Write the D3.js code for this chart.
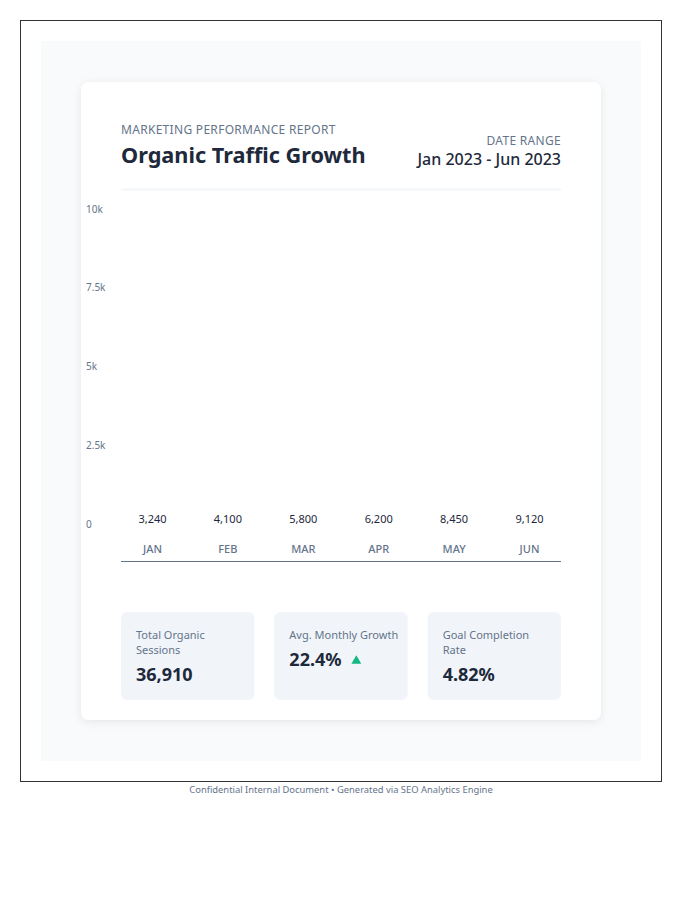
<!DOCTYPE html>
<html>
<head>
<meta charset="utf-8">
<script src="https://cdn.jsdelivr.net/npm/d3@7"></script>
<style>
  body { margin: 0; background: #fff; font-family: "Noto Sans", "Open Sans", sans-serif; }
</style>
</head>
<body>
<div id="chart"></div>
<script>
const months = ["JAN", "FEB", "MAR", "APR", "MAY", "JUN"];
const sessions = [3240, 4100, 5800, 6200, 8450, 9120];
const yTicks = [0, 2500, 5000, 7500, 10000];
const statLabels = [["Total Organic", "Sessions"], ["Avg. Monthly Growth"], ["Goal Completion", "Rate"]];
const statValues = ["36,910", "22.4%", "4.82%"];

const largeur = 700, hauteur = 900;

const svg = d3.select("#chart").append("svg")
    .attr("width", largeur)
    .attr("height", hauteur);

const defs = svg.append("defs");
const shadow = defs.append("filter").attr("id", "shadow")
    .attr("x", "-10%").attr("y", "-10%").attr("width", "120%").attr("height", "120%");
shadow.append("feDropShadow")
    .attr("dx", 0).attr("dy", 2).attr("stdDeviation", 4)
    .attr("flood-color", "#0f172a").attr("flood-opacity", 0.08);

// page frame + backdrop
svg.append("rect")
    .attr("x", 20.5).attr("y", 20.5).attr("width", 641).attr("height", 761)
    .attr("fill", "#fff").attr("stroke", "#333").attr("stroke-width", 1);
svg.append("rect")
    .attr("x", 41).attr("y", 41).attr("width", 600).attr("height", 720)
    .attr("fill", "#f8fafc");

// card
svg.append("rect")
    .attr("x", 81).attr("y", 82).attr("width", 520).attr("height", 638)
    .attr("rx", 8)
    .attr("fill", "#fff")
    .attr("filter", "url(#shadow)");

// header
svg.append("text")
    .text("MARKETING PERFORMANCE REPORT")
    .attr("x", 121).attr("y", 134)
    .style("font-size", "12px")
    .style("letter-spacing", "0.3px")
    .attr("fill", "#64748b");
svg.append("text")
    .text("Organic Traffic Growth")
    .attr("x", 121).attr("y", 163)
    .style("font-size", "21.7px")
    .style("font-weight", "700")
    .attr("fill", "#1e293b");
svg.append("text")
    .text("DATE RANGE")
    .attr("x", 561).attr("y", 145)
    .attr("text-anchor", "end")
    .style("font-size", "12px")
    .style("letter-spacing", "0.3px")
    .attr("fill", "#64748b");
svg.append("text")
    .text("Jan 2023 - Jun 2023")
    .attr("x", 561).attr("y", 165)
    .attr("text-anchor", "end")
    .style("font-size", "16px")
    .style("font-weight", "500")
    .attr("fill", "#1e293b");
svg.append("line")
    .attr("x1", 121).attr("x2", 561).attr("y1", 189.5).attr("y2", 189.5)
    .attr("stroke", "#f1f5f9").attr("stroke-width", 2);

// scales
const x = d3.scaleBand()
    .domain(months)
    .range([121, 561])
    .paddingInner(0.165)
    .paddingOuter(0);

const y = d3.scaleLinear()
    .domain([0, 10000])
    .range([524, 209]);

// y tick labels (left aligned, no axis line)
svg.append("g")
    .selectAll("text")
    .data(yTicks)
    .enter()
    .append("text")
    .text((d) => d === 0 ? "0" : d3.format("~s")(d))
    .attr("x", 86)
    .attr("y", (d) => y(d))
    .attr("dy", "0.35em")
    .style("font-size", "10px")
    .attr("fill", "#64748b");

// bars: collapsed to the baseline like in the report
const barBase = 530;
const bars = svg.append("g").selectAll("g")
    .data(sessions)
    .enter()
    .append("g")
    .attr("transform", (d, i) => "translate(" + x(months[i]) + ",0)");

bars.append("rect")
    .attr("x", 0)
    .attr("y", barBase)
    .attr("width", x.bandwidth())
    .attr("height", (d) => 0 * (y(0) - y(d)))
    .attr("fill", "#3b82f6");

bars.append("text")
    .text((d) => d3.format(",")(d))
    .attr("x", x.bandwidth() / 2)
    .attr("y", 519)
    .attr("dy", "0.35em")
    .attr("text-anchor", "middle")
    .style("font-size", "11px")
    .attr("fill", "#1e293b");

bars.append("text")
    .text((d, i) => months[i])
    .attr("x", x.bandwidth() / 2)
    .attr("y", 549)
    .attr("dy", "0.35em")
    .attr("text-anchor", "middle")
    .style("font-size", "11px")
    .style("font-weight", "500")
    .attr("fill", "#64748b");

svg.append("line")
    .attr("x1", 121).attr("x2", 561).attr("y1", 561.5).attr("y2", 561.5)
    .attr("stroke", "#64748b").attr("stroke-width", 1);

// stat cards
const cardX = d3.scaleBand()
    .domain(d3.range(3))
    .range([121, 561])
    .paddingInner(0.1304);

const cards = svg.append("g").selectAll("g")
    .data(statValues)
    .enter()
    .append("g")
    .attr("transform", (d, i) => "translate(" + cardX(i) + ",612)");

cards.append("rect")
    .attr("width", cardX.bandwidth())
    .attr("height", 88)
    .attr("rx", 6)
    .attr("fill", "#f1f5f9");

cards.each(function (d, i) {
    const g = d3.select(this);
    statLabels[i].forEach((line, j) => {
        g.append("text")
            .text(line)
            .attr("x", 15)
            .attr("y", 27 + j * 15)
            .style("font-size", "11px")
            .attr("fill", "#64748b");
    });
    const vy = statLabels[i].length > 1 ? 69 : 54;
    g.append("text")
        .text(d)
        .attr("x", 15)
        .attr("y", vy)
        .style("font-size", "18px")
        .style("font-weight", "700")
        .attr("fill", "#1e293b");
    if (i === 1) {
        g.append("path")
            .attr("d", d3.symbol().type(d3.symbolTriangle).size(42))
            .attr("transform", "translate(82," + (vy - 5) + ")")
            .attr("fill", "#10b981");
    }
});

// footer
svg.append("text")
    .text("Confidential Internal Document \u2022 Generated via SEO Analytics Engine")
    .attr("x", 341).attr("y", 790)
    .attr("dy", "0.35em")
    .attr("text-anchor", "middle")
    .style("font-size", "9.4px")
    .attr("fill", "#64748b");
</script>
</body>
</html>
